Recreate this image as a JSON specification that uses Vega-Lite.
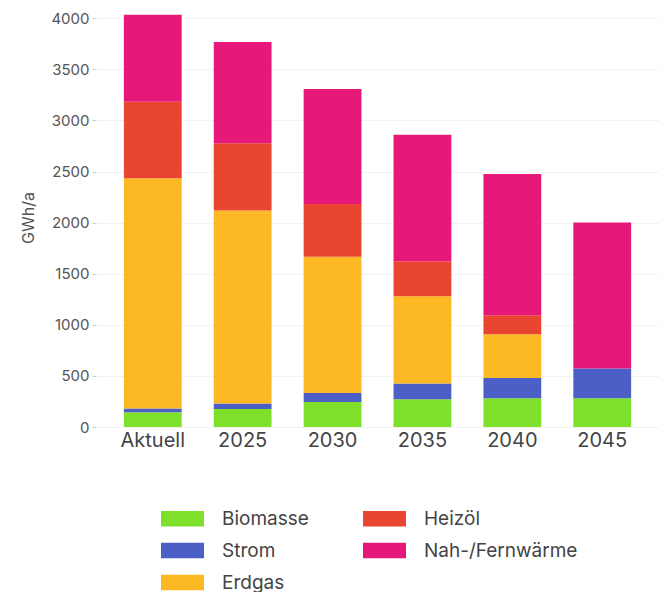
{
  "$schema": "https://vega.github.io/schema/vega-lite/v6.json",
  "autosize": "none",
  "width": 563,
  "height": 419,
  "padding": {"left": 96, "top": 8, "right": 0, "bottom": 165},
  "background": "white",
  "config": {
    "font": "Inter",
    "view": {"stroke": null}
  },
  "data": {
    "values": [
      {"jahr": "Aktuell", "typ": "Biomasse", "ord": 1, "wert": 144},
      {"jahr": "Aktuell", "typ": "Strom", "ord": 2, "wert": 36},
      {"jahr": "Aktuell", "typ": "Erdgas", "ord": 3, "wert": 2253},
      {"jahr": "Aktuell", "typ": "Heizöl", "ord": 4, "wert": 750},
      {"jahr": "Aktuell", "typ": "Nah-/Fernwärme", "ord": 5, "wert": 852},
      {"jahr": "2025", "typ": "Biomasse", "ord": 1, "wert": 176},
      {"jahr": "2025", "typ": "Strom", "ord": 2, "wert": 53},
      {"jahr": "2025", "typ": "Erdgas", "ord": 3, "wert": 1890},
      {"jahr": "2025", "typ": "Heizöl", "ord": 4, "wert": 657},
      {"jahr": "2025", "typ": "Nah-/Fernwärme", "ord": 5, "wert": 992},
      {"jahr": "2030", "typ": "Biomasse", "ord": 1, "wert": 245},
      {"jahr": "2030", "typ": "Strom", "ord": 2, "wert": 88},
      {"jahr": "2030", "typ": "Erdgas", "ord": 3, "wert": 1332},
      {"jahr": "2030", "typ": "Heizöl", "ord": 4, "wert": 516},
      {"jahr": "2030", "typ": "Nah-/Fernwärme", "ord": 5, "wert": 1126},
      {"jahr": "2035", "typ": "Biomasse", "ord": 1, "wert": 271},
      {"jahr": "2035", "typ": "Strom", "ord": 2, "wert": 154},
      {"jahr": "2035", "typ": "Erdgas", "ord": 3, "wert": 855},
      {"jahr": "2035", "typ": "Heizöl", "ord": 4, "wert": 343},
      {"jahr": "2035", "typ": "Nah-/Fernwärme", "ord": 5, "wert": 1237},
      {"jahr": "2040", "typ": "Biomasse", "ord": 1, "wert": 281},
      {"jahr": "2040", "typ": "Strom", "ord": 2, "wert": 199},
      {"jahr": "2040", "typ": "Erdgas", "ord": 3, "wert": 428},
      {"jahr": "2040", "typ": "Heizöl", "ord": 4, "wert": 186},
      {"jahr": "2040", "typ": "Nah-/Fernwärme", "ord": 5, "wert": 1381},
      {"jahr": "2045", "typ": "Biomasse", "ord": 1, "wert": 281},
      {"jahr": "2045", "typ": "Strom", "ord": 2, "wert": 291},
      {"jahr": "2045", "typ": "Nah-/Fernwärme", "ord": 5, "wert": 1430}
    ]
  },
  "mark": {"type": "bar"},
  "encoding": {
    "x": {
      "field": "jahr",
      "type": "nominal",
      "sort": ["Aktuell", "2025", "2030", "2035", "2040", "2045"],
      "scale": {"paddingInner": 0.357, "paddingOuter": 0.31},
      "axis": {
        "title": null,
        "labelAngle": 0,
        "labelFontSize": 20,
        "labelColor": "#444444",
        "labelPadding": 3,
        "ticks": false,
        "domain": false,
        "grid": false
      }
    },
    "y": {
      "field": "wert",
      "type": "quantitative",
      "stack": "zero",
      "scale": {"domain": [0, 4100], "nice": false},
      "axis": {
        "title": "GWh/a",
        "titleFontSize": 16,
        "titleFontWeight": "normal",
        "titleColor": "#555555",
        "titlePadding": 14,
        "format": "d",
        "values": [0, 500, 1000, 1500, 2000, 2500, 3000, 3500, 4000],
        "labelFontSize": 15,
        "labelColor": "#555555",
        "labelPadding": 3,
        "tickSize": 4,
        "tickColor": "#cccccc",
        "domain": false,
        "gridColor": "#f2f2f2",
        "gridWidth": 1
      }
    },
    "color": {
      "field": "typ",
      "type": "nominal",
      "scale": {
        "domain": ["Biomasse", "Strom", "Erdgas", "Heizöl", "Nah-/Fernwärme"],
        "range": ["#7ee02a", "#4b5fc6", "#fdb924", "#ea4530", "#e6197a"]
      },
      "legend": {
        "title": null,
        "orient": "none",
        "legendX": 65,
        "legendY": 489,
        "direction": "vertical",
        "columns": 2,
        "columnPadding": 54,
        "rowPadding": -12.5,
        "symbolType": "M-1,-0.36H1V0.36H-1Z",
        "symbolSize": 1849,
        "symbolStrokeWidth": 0,
        "symbolOpacity": 1,
        "labelFontSize": 19,
        "labelColor": "#444444",
        "labelOffset": 18,
        "labelLimit": 300
      }
    },
    "order": {"field": "ord", "type": "quantitative", "sort": "ascending"}
  }
}
